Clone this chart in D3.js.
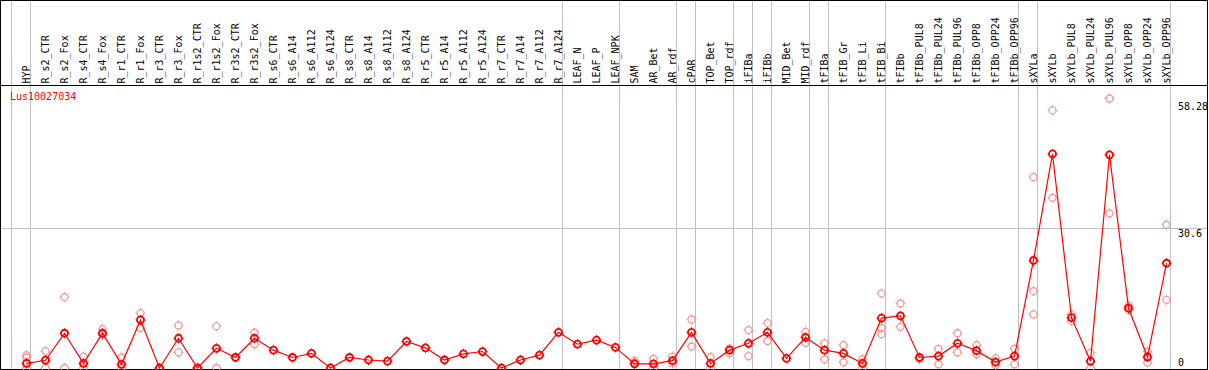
<!DOCTYPE html>
<html>
<head>
<meta charset="utf-8">
<script src="https://cdn.jsdelivr.net/npm/d3@7"></script>
<style>
  body { margin: 0; background: #fff; }
  svg { display: block; font-family: "DejaVu Sans Mono", monospace; font-size: 10px; }
</style>
</head>
<body>
<div id="app"></div>
<script>
const samples = ["HYP", "R_s2_CTR", "R_s2_Fox", "R_s4_CTR", "R_s4_Fox", "R_r1_CTR", "R_r1_Fox",
  "R_r3_CTR", "R_r3_Fox", "R_r1s2_CTR", "R_r1s2_Fox", "R_r3s2_CTR", "R_r3s2_Fox",
  "R_s6_CTR", "R_s6_A14", "R_s6_A112", "R_s6_A124", "R_s8_CTR", "R_s8_A14", "R_s8_A112", "R_s8_A124",
  "R_r5_CTR", "R_r5_A14", "R_r5_A112", "R_r5_A124", "R_r7_CTR", "R_r7_A14", "R_r7_A112", "R_r7_A124",
  "LEAF_N", "LEAF_P", "LEAF_NPK", "SAM", "AR_Bet", "AR_rdf", "cPAR", "TOP_Bet", "TOP_rdf",
  "iFIBa", "iFIBb", "MID_Bet", "MID_rdf", "tFIBa", "tFIB_Gr", "tFIB_Li", "tFIB_Bi",
  "tFIBb", "tFIBb_PUL8", "tFIBb_PUL24", "tFIBb_PUL96", "tFIBb_OPP8", "tFIBb_OPP24", "tFIBb_OPP96",
  "sXYLa", "sXYLb", "sXYLb_PUL8", "sXYLb_PUL24", "sXYLb_PUL96", "sXYLb_OPP8", "sXYLb_OPP24", "sXYLb_OPP96"];

// mean expression per sample
const means = [1.0, 1.7, 7.6, 1.0, 7.6, 0.8, 10.5, 0, 6.5, 0, 4.3, 2.3, 6.5,
  3.9, 2.3, 3.2, 0, 2.3, 1.75, 1.5, 5.8, 4.4, 1.75, 3.1, 3.6, 0, 1.75, 2.8, 7.8,
  5.2, 6.1, 4.5, 0.9, 0.9, 1.6, 7.8, 1.0, 3.9, 5.4, 7.8, 2.1, 6.7, 3.9, 3.2, 1.0, 10.9,
  11.4, 2.3, 2.6, 5.4, 3.8, 1.3, 2.6, 23.5, 46.8, 11.0, 1.5, 46.6, 13.1, 2.4, 22.9];

// replicate values per sample
const replicates = [[2.8, 2.3, 0], [3.7, 0], [15.5, 0], [2.5, 0], [8.5, 7.2], [2.3, 0], [12.0, 8.8],
  [0], [9.3, 3.4], [0], [9.1, 0], [2.4], [7.7, 5.2],
  [], [], [], [], [], [], [], [], [], [], [], [], [], [], [], [],
  [], [], [], [1.6, 1.2], [2.0, 0], [2.5, 1.0], [10.6, 4.7], [2.4, 0], [4.3, 3.2],
  [8.3, 2.6], [9.8, 5.9], [], [7.9, 5.5], [5.4, 1.9], [5.0, 1.25], [1.9, 0], [16.3, 8.7, 7.4],
  [14.1, 9.0], [1.9], [4.2, 0.8], [7.6, 3.4], [5.0, 3.0], [2.1, 0.65], [4.2, 0.8],
  [41.7, 16.8, 11.7], [56.3, 37.2], [11.6, 10.3], [3.3, 0], [58.9, 33.8], [13.7, 12.7], [3.6, 1.2], [31.3, 14.9]];

const groupStarts = ["HYP", "R_s2_CTR", "LEAF_N", "SAM", "cPAR", "TOP_Bet", "iFIBa", "iFIBb",
  "MID_Bet", "tFIBa", "tFIB_Gr", "tFIBb", "sXYLa", "sXYLb"];
const yTicks = [0, 30.6, 58.28];
const geneName = "Lus10027034";

const width = 1209, height = 370;
const headerBottom = 85, plotBottom = 369;

const svg = d3.select("#app").append("svg")
  .attr("width", width).attr("height", height);

const x = d3.scaleBand().domain(samples).range([11, 1170]);
const px = d => x(d) + 15.5;
const y = d3.scaleLinear().domain([0, 30.6]).range([368, 228]);

// grid
const grid = svg.append("g").attr("shape-rendering", "crispEdges").attr("stroke", "#c0c0c0");
grid.selectAll("line.v")
  .data(groupStarts)
  .enter().append("line")
  .attr("x1", d => Math.floor(x(d)) + 0.5).attr("x2", d => Math.floor(x(d)) + 0.5)
  .attr("y1", 0).attr("y2", plotBottom);
grid.append("line")
  .attr("x1", 1170.5).attr("x2", 1170.5).attr("y1", 0).attr("y2", plotBottom);
grid.append("line")
  .attr("x1", 0).attr("x2", 1207).attr("y1", Math.round(y(30.6)) + 0.5).attr("y2", Math.round(y(30.6)) + 0.5);

// frame
const frame = svg.append("g").attr("shape-rendering", "crispEdges").attr("stroke", "#000");
frame.append("line").attr("x1", 0).attr("x2", 1208).attr("y1", 0.5).attr("y2", 0.5);
frame.append("line").attr("x1", 0).attr("x2", 1208).attr("y1", headerBottom + 0.5).attr("y2", headerBottom + 0.5);
frame.append("line").attr("x1", 0).attr("x2", 1208).attr("y1", plotBottom + 0.5).attr("y2", plotBottom + 0.5);
frame.append("line").attr("x1", 0.5).attr("x2", 0.5).attr("y1", 0).attr("y2", height);
frame.append("line").attr("x1", 1207.5).attr("x2", 1207.5).attr("y1", 0).attr("y2", height);

// sample labels
svg.append("g")
  .selectAll("text")
  .data(samples)
  .enter().append("text")
  .attr("transform", d => `translate(${px(d)},83.5) rotate(-90)`)
  .attr("dy", "0.35em")
  .attr("fill", "#000")
  .text(d => d);

// right axis labels
const axis = d3.axisRight(y).tickValues(yTicks).tickSize(0).tickPadding(0)
  .tickFormat(d => String(d));
const ax = svg.append("g").attr("transform", "translate(1178,0)").call(axis);
ax.select(".domain").remove();
ax.selectAll("text")
  .attr("font-family", "DejaVu Sans Mono, monospace").attr("font-size", 10)
  .attr("fill", "#000")
  .attr("dy", d => d === 0 ? "-0.25em" : "0.85em");

svg.append("text")
  .attr("x", 10).attr("y", 100)
  .attr("fill", "#ff0000")
  .text(geneName);

// marker: circle with small ticks
const marker = (g, color, sw) => {
  g.append("circle").attr("r", 3.5).attr("fill", "none").attr("stroke", color).attr("stroke-width", sw);
  [[0, -1], [0, 1], [-1, 0], [1, 0]].forEach(([dx, dy]) => {
    g.append("line")
      .attr("x1", dx * 3.5).attr("y1", dy * 3.5)
      .attr("x2", dx * 5).attr("y2", dy * 5)
      .attr("stroke", color).attr("stroke-width", 1);
  });
};

// replicate points
const repPoints = [];
samples.forEach((s, i) => replicates[i].forEach(v => repPoints.push({ s, v })));
svg.append("g")
  .selectAll("g")
  .data(repPoints)
  .enter().append("g")
  .attr("transform", d => `translate(${px(d.s)},${y(d.v)})`)
  .each(function () { marker(d3.select(this), "#ef9a9a", 1.3); });

// mean line
const line = d3.line().x((d, i) => px(samples[i])).y(d => y(d));
svg.append("path")
  .datum(means)
  .attr("d", line)
  .attr("fill", "none")
  .attr("stroke", "#ff0000")
  .attr("stroke-width", 1.2);

svg.append("g")
  .selectAll("g")
  .data(means)
  .enter().append("g")
  .attr("transform", (d, i) => `translate(${px(samples[i])},${y(d)})`)
  .each(function () { marker(d3.select(this), "#ff0000", 1.8); });
</script>
</body>
</html>
